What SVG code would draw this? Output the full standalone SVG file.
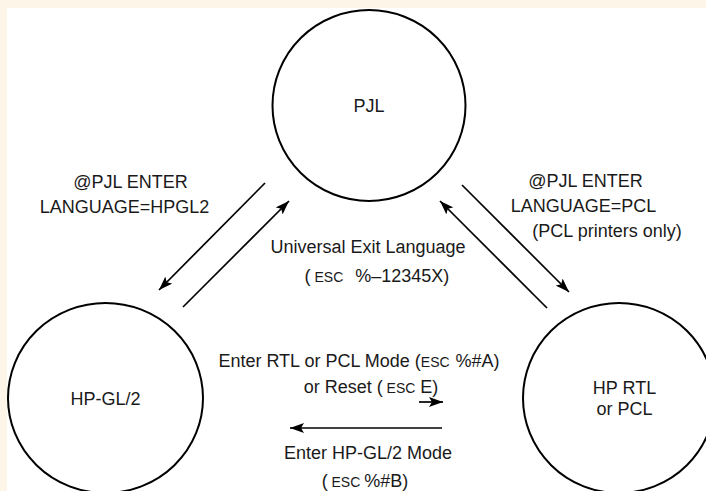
<svg xmlns="http://www.w3.org/2000/svg" width="706" height="491" viewBox="0 0 706 491">
  <style>
    .node { fill: #ffffff; stroke: #000000; stroke-width: 2; }
    .edge { stroke: #000000; stroke-width: 1.7; fill: none; marker-end: url(#arrow); }
    text { font-family: "Liberation Sans", Arial, sans-serif; font-size: 18px; fill: #1a1a1a; text-anchor: middle; }
    .sm { font-size: 14px; }
  </style>
  <defs>
    <marker id="arrow" viewBox="0 0 14 10" refX="14" refY="5" markerWidth="14" markerHeight="10" markerUnits="userSpaceOnUse" orient="auto">
      <path d="M0,0 L14,5 L0,10 L3,5 z" fill="#000000"/>
    </marker>
  </defs>
  <rect x="0" y="0" width="706" height="491" fill="#fdf5e8"/>
  <rect x="7" y="8" width="699" height="483" fill="#ffffff"/>

  <g id="node-pjl">
    <ellipse class="node" cx="369" cy="105.5" rx="96.5" ry="95.5"/>
    <text x="369" y="112">PJL</text>
  </g>
  <g id="node-hpgl2">
    <ellipse class="node" cx="105.5" cy="398" rx="97.5" ry="95"/>
    <text x="105.5" y="405">HP-GL/2</text>
  </g>
  <g id="node-rtl">
    <ellipse class="node" cx="619" cy="398" rx="96" ry="95"/>
    <text x="624.5" y="394">HP RTL</text>
    <text x="624.5" y="415">or PCL</text>
  </g>

  <g id="connectors">
    <line class="edge" x1="265" y1="183" x2="159" y2="290"/>
    <line class="edge" x1="183" y1="307" x2="289" y2="201"/>
    <line class="edge" x1="462" y1="185" x2="569" y2="292"/>
    <line class="edge" x1="547" y1="308" x2="440" y2="201"/>
    <line class="edge" x1="419" y1="402" x2="443" y2="402"/>
    <line class="edge" x1="442" y1="428" x2="290" y2="428"/>
  </g>

  <g id="labels">
    <text x="130.5" y="188">@PJL ENTER</text>
    <text x="124.5" y="213">LANGUAGE=HPGL2</text>
    <text x="585.5" y="187">@PJL ENTER</text>
    <text x="583.5" y="212">LANGUAGE=PCL</text>
    <text x="607" y="237">(PCL printers only)</text>
    <text x="368" y="253">Universal Exit Language</text>
    <text x="377" y="282">(<tspan class="sm"> ESC</tspan><tspan dx="12">%–12345X)</tspan></text>
    <text x="359" y="367">Enter RTL or PCL Mode (<tspan class="sm">ESC</tspan><tspan dx="6">%#A)</tspan></text>
    <text x="371" y="393">or Reset (<tspan class="sm"> ESC</tspan> E)</text>
    <text x="368" y="459">Enter HP-GL/2 Mode</text>
    <text x="365" y="487">(<tspan class="sm"> ESC</tspan><tspan dx="4">%#B)</tspan></text>
  </g>
</svg>
